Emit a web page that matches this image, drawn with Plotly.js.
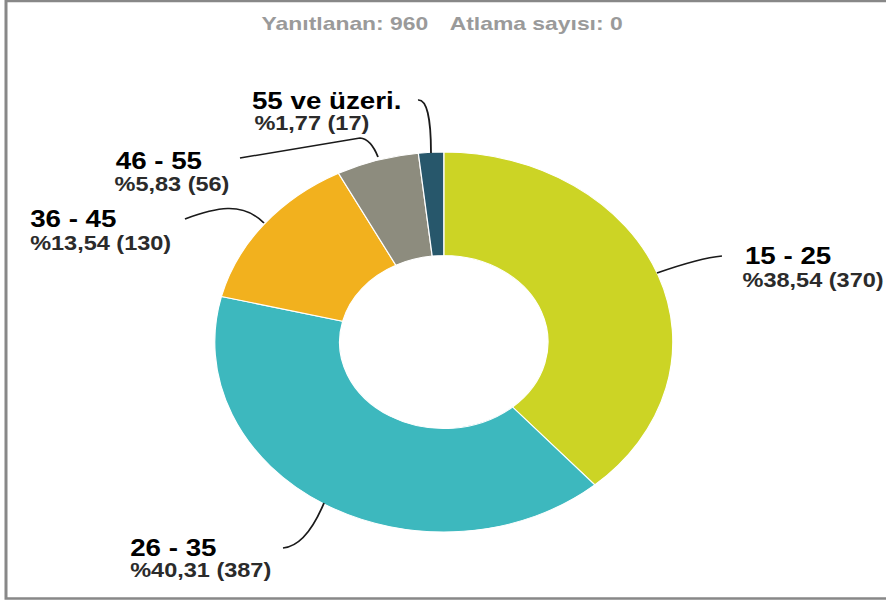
<!DOCTYPE html>
<html>
<head>
<meta charset="utf-8">
<script src="https://cdn.plot.ly/plotly-3.0.1.min.js"></script>
<style>
  html, body { margin: 0; padding: 0; background: #fff; overflow: hidden; }
  #wrap { width: 886px; height: 603px; overflow: hidden; position: relative; }
  #chart { width: 735px; height: 603px; transform: scaleX(1.2054); transform-origin: 0 0; }
</style>
</head>
<body>
<div id="wrap"><div id="chart"></div></div>
<script>
// ---- data ----
const ageGroups = ["15 - 25", "26 - 35", "36 - 45", "46 - 55", "55 ve üzeri."];
const counts = [370, 387, 130, 56, 17];
const percents = [38.54, 40.31, 13.54, 5.83, 1.77];
const answered = 960;
const skipped = 0;
const sliceColors = ["#CCD425", "#3DB8BE", "#F2B11E", "#8D8C7E", "#27576B"];

// ---- geometry helpers (reference-pixel -> paper fraction) ----
const RW = 886, RH = 603;
const px = x => x / RW;
const py = y => 1 - y / RH;
function path(cmds) {
  return cmds.map(c => {
    const l = c[0];
    const pts = [];
    for (let i = 1; i < c.length; i += 2) pts.push(px(c[i]).toFixed(5) + "," + py(c[i + 1]).toFixed(5));
    return l + " " + pts.join(" ");
  }).join(" ");
}

const fmtPct = v => "%" + v.toFixed(2).replace(".", ",");

// label positions (reference pixels): line1 left/center-y, line2 left/center-y
const labelPos = [
  {x1: 742, y1: 256, x2: 740, y2: 280},
  {x1: 128, y1: 548, x2: 128, y2: 570},
  {x1: 28,  y1: 219, x2: 28,  y2: 243},
  {x1: 113, y1: 161, x2: 112, y2: 184},
  {x1: 250, y1: 101, x2: 252, y2: 123}
];
const leaderPaths = [
  [["M", 657, 273], ["Q", 700, 258, 722, 256]],
  [["M", 324, 503], ["Q", 306, 546, 283, 548]],
  [["M", 185, 219], ["C", 215, 208, 242, 201, 264, 223]],
  [["M", 240, 158], ["L", 360, 138], ["Q", 371, 139, 378, 157]],
  [["M", 418, 100], ["Q", 431, 99, 431, 153]]
];

const FONT = "Arial, 'Liberation Sans', Helvetica, sans-serif";
const annotations = [];
ageGroups.forEach((g, i) => {
  const p = labelPos[i];
  annotations.push({
    xref: "paper", yref: "paper", x: px(p.x1), y: py(p.y1), xanchor: "left", yanchor: "middle",
    text: "<b>" + g + "</b>", showarrow: false,
    font: {family: FONT, size: 23, color: "#000"}
  });
  annotations.push({
    xref: "paper", yref: "paper", x: px(p.x2), y: py(p.y2), xanchor: "left", yanchor: "middle",
    text: "<b>" + fmtPct(percents[i]) + " (" + counts[i] + ")</b>", showarrow: false,
    font: {family: FONT, size: 19.5, color: "#2b2b2b"}
  });
});
annotations.push({
  xref: "paper", yref: "paper", x: px(345), y: py(23), xanchor: "center", yanchor: "middle",
  text: "<b>Yanıtlanan: " + answered + "</b>", showarrow: false,
  font: {family: FONT, size: 19, color: "#9a9a9a"}
});
annotations.push({
  xref: "paper", yref: "paper", x: px(537), y: py(23), xanchor: "center", yanchor: "middle",
  text: "<b>Atlama sayısı: " + skipped + "</b>", showarrow: false,
  font: {family: FONT, size: 19, color: "#9a9a9a"}
});

const shapes = leaderPaths.map(pp => ({
  type: "path", xref: "paper", yref: "paper", path: path(pp),
  line: {color: "#1a1a1a", width: 1.5}
}));
// frame
shapes.push({
  type: "rect", xref: "paper", yref: "paper",
  x0: px(6), x1: 1.05, y0: py(598.5), y1: py(1),
  line: {color: "#888888", width: 2.5}, fillcolor: "rgba(0,0,0,0)"
});

const trace = {
  type: "pie",
  labels: ageGroups,
  values: counts,
  marker: {colors: sliceColors, line: {color: "#ffffff", width: 1}},
  sort: false,
  direction: "clockwise",
  rotation: 0,
  hole: 0.455,
  textinfo: "none",
  hoverinfo: "skip",
  showlegend: false,
  domain: {x: [0.2424, 0.7594], y: [0.1177, 0.7479]}
};

const layout = {
  width: 735, height: 603,
  margin: {l: 0, r: 0, t: 0, b: 0},
  paper_bgcolor: "#ffffff",
  showlegend: false,
  annotations: annotations,
  shapes: shapes
};

Plotly.newPlot("chart", [trace], layout, {displayModeBar: false, staticPlot: true});
</script>
</body>
</html>
